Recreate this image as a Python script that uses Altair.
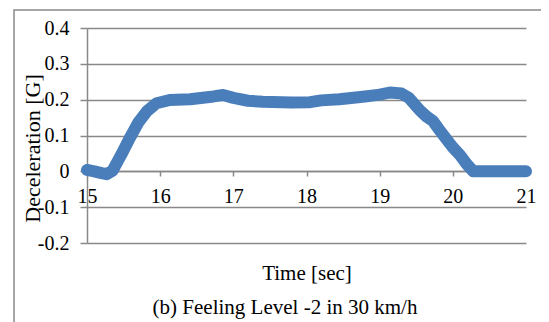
import altair as alt
import pandas as pd

time_sec = [15.0, 15.1, 15.2, 15.27, 15.35, 15.47, 15.59, 15.70, 15.82, 15.95,
            16.13, 16.41, 16.73, 16.86, 17.0, 17.2, 17.4, 17.8, 18.05, 18.2,
            18.45, 18.8, 19.0, 19.14, 19.3, 19.4, 19.55, 19.64, 19.73, 19.8,
            19.92, 20.0, 20.1, 20.19, 20.28, 20.5, 21.0]
decel_g = [0.004, 0.0, -0.005, -0.008, 0.002, 0.047, 0.095, 0.136, 0.168, 0.19,
           0.199, 0.201, 0.209, 0.213, 0.205, 0.197, 0.194, 0.192, 0.193, 0.198,
           0.201, 0.209, 0.214, 0.22, 0.217, 0.205, 0.17, 0.153, 0.14, 0.12,
           0.088, 0.067, 0.045, 0.02, 0.0, 0.0, 0.0]
x_ticks = [15, 16, 17, 18, 19, 20, 21]
y_ticks = [-0.2, -0.1, 0.0, 0.1, 0.2, 0.3, 0.4]
caption = "(b) Feeling Level -2 in 30 km/h"

df = pd.DataFrame({"t": time_sec, "d": decel_g})

GRAY = "#898989"
FONT = "Liberation Serif"

frame = alt.Chart(alt.Data(values=[{"a": 1}])).mark_rect(
    fill=None, stroke=GRAY, strokeWidth=1.5
).encode(
    x=alt.value(-73), y=alt.value(-18), x2=alt.value(480), y2=alt.value(320)
)

cap = alt.Chart(alt.Data(values=[{"a": 1}])).mark_text(
    font=FONT, fontSize=21, color="black", align="center", baseline="alphabetic"
).encode(
    x=alt.value(198), y=alt.value(286), text=alt.value(caption)
)

line = alt.Chart(df).mark_line(
    color="#4a7ebb", strokeWidth=12, strokeJoin="round", strokeCap="round"
).encode(
    x=alt.X("t:Q",
            scale=alt.Scale(domain=[15, 21], nice=False, zero=False),
            axis=alt.Axis(values=x_ticks, grid=False, offset=-72,
                          tickSize=5, labelPadding=10, labelFlush=False,
                          title="Time [sec]",
                          titleBaseline="alphabetic", titleY=108)),
    y=alt.Y("d:Q",
            scale=alt.Scale(domain=[-0.2, 0.4], nice=False, zero=False),
            axis=alt.Axis(values=y_ticks, grid=True, tickSize=7, labelPadding=11,
                          labelExpr="abs(datum.value) < 1e-9 ? '0' : (datum.value < 0 ? '-' + format(-datum.value, '.1f') : format(datum.value, '.1f'))",
                          title="Deceleration [G]", titleFontSize=22,
                          titleAngle=270, titleBaseline="middle", titleAlign="center",
                          titleX=-55, titleY=120)),
)

chart = alt.layer(frame, line, cap).properties(
    width=439, height=215,
    autosize=alt.AutoSizeParams(type="none"),
    padding={"left": 79, "top": 20, "right": 15, "bottom": 79},
).configure(font=FONT).configure_view(stroke=None).configure_axis(
    gridColor=GRAY, gridWidth=1.5,
    domainColor=GRAY, domainWidth=1.5,
    tickColor=GRAY, tickWidth=1.5,
    labelFont=FONT, labelFontSize=20, labelColor="black",
    titleFont=FONT, titleFontSize=21, titleFontWeight="normal", titleColor="black",
)

chart.save("out.html", embed_options={"renderer": "svg", "actions": False})
